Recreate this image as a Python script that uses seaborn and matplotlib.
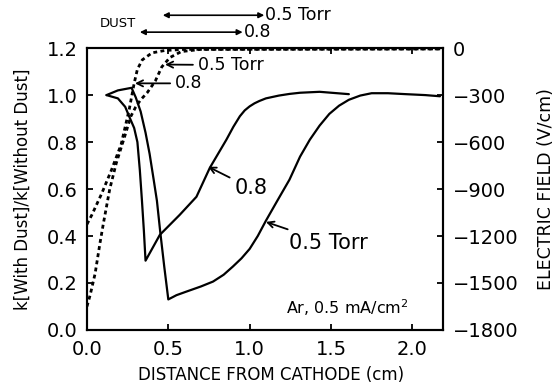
import numpy as np
import matplotlib
matplotlib.use("Agg")
import matplotlib.pyplot as plt
import seaborn as sns

# k ratio (solid, left axis)
x_k08 = [0.12, 0.19, 0.235, 0.265, 0.29, 0.31, 0.325, 0.338, 0.35, 0.36,
         0.448, 0.57, 0.673, 0.755, 0.857, 0.90, 0.94, 0.97, 1.0, 1.03, 1.06, 1.10,
         1.18, 1.245, 1.31, 1.43, 1.61]
k08 = [1.0, 0.986, 0.95, 0.90, 0.86, 0.80, 0.68, 0.55, 0.42, 0.295,
       0.405, 0.49, 0.567, 0.69, 0.81, 0.865, 0.91, 0.935, 0.952, 0.965, 0.975, 0.986,
       0.998, 1.005, 1.01, 1.014, 1.004]

x_k05 = [0.12, 0.19, 0.274, 0.30, 0.33, 0.36, 0.385, 0.41, 0.43, 0.45, 0.475, 0.50,
         0.55, 0.61, 0.70, 0.775, 0.84, 0.897, 0.95, 1.0, 1.05, 1.10, 1.17, 1.245, 1.31,
         1.37, 1.43, 1.49, 1.55, 1.61, 1.68, 1.75, 1.85, 1.96, 2.08, 2.17]
k05 = [1.0, 1.02, 1.031, 0.99, 0.93, 0.84, 0.75, 0.64, 0.55, 0.42, 0.27, 0.13,
       0.148, 0.163, 0.185, 0.206, 0.235, 0.27, 0.305, 0.345, 0.40, 0.465, 0.55, 0.64, 0.738,
       0.81, 0.87, 0.92, 0.955, 0.98, 0.998, 1.008, 1.008, 1.004, 1.0, 0.995]

# electric field (dashed, right axis)
x_e08 = [0.0, 0.03, 0.09, 0.15, 0.21, 0.24, 0.26, 0.29, 0.31, 0.34, 0.40, 0.48, 0.60, 2.19]
e08 = [-1125, -1065, -930, -780, -615, -480, -390, -225, -135, -75, -30, -15, -8, -5]

x_e05 = [0.0, 0.02, 0.05, 0.08, 0.10, 0.14, 0.18, 0.23, 0.27, 0.30, 0.33, 0.37,
         0.42, 0.46, 0.51, 0.58, 0.70, 2.19]
e05 = [-1650, -1575, -1440, -1245, -1125, -900, -735, -570, -435, -375, -330, -285,
       -210, -120, -60, -22, -8, -5]

xticks = [0.0, 0.5, 1.0, 1.5, 2.0]
yticks = [0.0, 0.2, 0.4, 0.6, 0.8, 1.0, 1.2]
eticks = [0, -300, -600, -900, -1200, -1500, -1800]

sns.set_style("ticks")
plt.rcParams['font.family'] = ['DejaVu Sans']
plt.rcParams.update({"text.color": "k", "axes.labelcolor": "k", "xtick.color": "k",
                     "ytick.color": "k", "axes.edgecolor": "k"})

fig = plt.figure(figsize=(5.54, 3.85), dpi=100)
ax = fig.add_axes([0.157, 0.143, 0.643, 0.732])
ax2 = ax.twinx()

sns.lineplot(x=x_k08, y=k08, ax=ax, color="k", lw=1.6, sort=False)
sns.lineplot(x=x_k05, y=k05, ax=ax, color="k", lw=1.6, sort=False)
sns.lineplot(x=x_e08, y=e08, ax=ax2, color="k", lw=2, sort=False, linestyle=(0, (1.4, 1.2)))
sns.lineplot(x=x_e05, y=e05, ax=ax2, color="k", lw=2, sort=False, linestyle=(0, (1.4, 1.2)))

ax.set_xlim(0, 2.19)
ax.set_ylim(0, 1.2)
ax2.set_ylim(-1800, 0)
ax.set_xticks(xticks)
ax.set_xticklabels(["%.1f" % v for v in xticks])
ax.set_yticks(yticks)
ax.set_yticklabels(["%.1f" % v for v in yticks])
ax2.set_yticks(eticks)
ax2.set_yticklabels([str(v).replace("-", "\u2212") for v in eticks])

ax.tick_params(axis="x", direction="in", top=True, length=4, width=1.3, labelsize=14, pad=7)
ax.tick_params(axis="y", direction="in", left=True, right=False, length=4, width=1.3, labelsize=14, pad=6.5)
ax2.tick_params(axis="y", direction="in", length=4, width=1.3, labelsize=14, pad=7)
for a in (ax, ax2):
    for s in a.spines.values():
        s.set_linewidth(1.5)
        s.set_color("k")

ax.set_xlabel("DISTANCE FROM CATHODE (cm)", fontsize=12)
ax.xaxis.set_label_coords(0.517, -0.128)
ax.set_ylabel("k[With Dust]/k[Without Dust]", fontsize=12)
ax.yaxis.set_label_coords(-0.154, 0.5)
ax2.set_ylabel("ELECTRIC FIELD (V/cm)", fontsize=12.5)
ax2.yaxis.set_label_coords(1.262, 0.5)

arr = dict(arrowstyle="->", color="k", lw=1.3, shrinkA=1, shrinkB=0, mutation_scale=11)
# dashed curve labels
ax.annotate("0.5 Torr", xy=(0.48, 1.13), xytext=(0.68, 1.128), fontsize=12.5,
            ha="left", va="center", arrowprops=arr)
ax.annotate("0.8", xy=(0.295, 1.05), xytext=(0.54, 1.05), fontsize=12.5,
            ha="left", va="center", arrowprops=arr)
# solid curve labels
ax.annotate("0.8", xy=(0.745, 0.695), xytext=(0.905, 0.604), fontsize=15,
            ha="left", va="center", arrowprops=arr)
ax.annotate("0.5 Torr", xy=(1.10, 0.46), xytext=(1.24, 0.37), fontsize=15,
            ha="left", va="center", arrowprops=arr)
ax.text(1.225, 0.094, "Ar, 0.5 mA/cm$^2$", fontsize=11.5, ha="left", va="center")

# dust extent arrows above the frame
darr = dict(arrowstyle="<|-|>", color="k", lw=1.2, shrinkA=0, shrinkB=0, mutation_scale=8)
ax.annotate("", xy=(1.09, 1.34), xytext=(0.466, 1.34), arrowprops=darr, annotation_clip=False)
ax.text(1.095, 1.342, "0.5 Torr", fontsize=12.5, ha="left", va="center", clip_on=False)
ax.annotate("", xy=(0.957, 1.268), xytext=(0.325, 1.268), arrowprops=darr, annotation_clip=False)
ax.text(0.962, 1.27, "0.8", fontsize=12.5, ha="left", va="center", clip_on=False)
ax.text(0.08, 1.306, "DUST", fontsize=9.5, ha="left", va="center", clip_on=False)

fig.savefig("out.png", dpi=100)
